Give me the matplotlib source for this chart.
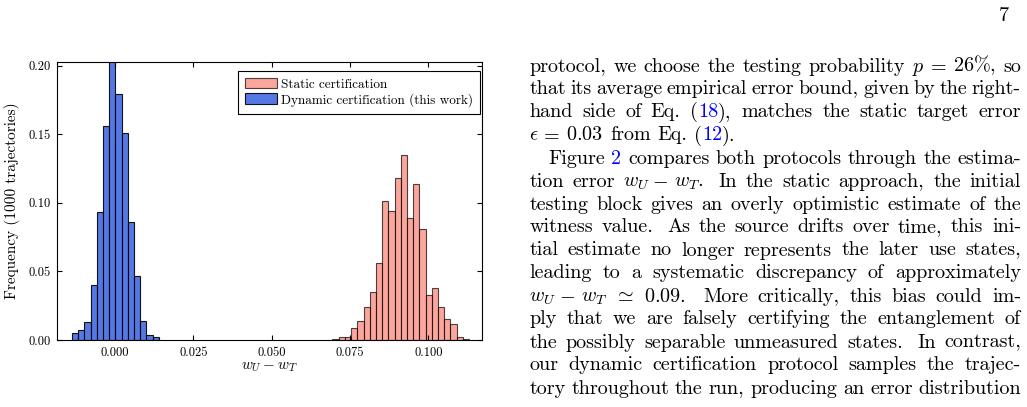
import re
import numpy as np
from matplotlib import pyplot as plt

plt.rcParams.update({
    "font.family": "cmr10",
    "mathtext.fontset": "cm",
    "axes.formatter.use_mathtext": True,
    "axes.unicode_minus": False,
})

# histogram data (fraction of 1000 trajectories per bin)
bin_width = 0.00198
static_first_edge = 0.0694
static_freq = [0.001, 0.002, 0.002, 0.009, 0.014, 0.024, 0.035, 0.056, 0.101, 0.094, 0.118,
               0.135, 0.089, 0.114, 0.081, 0.033, 0.038, 0.024, 0.015, 0.012, 0.002, 0.001]
dynamic_first_edge = -0.0137
dynamic_freq = [0.005, 0.007, 0.013, 0.040, 0.093, 0.156, 0.206, 0.179, 0.151, 0.086,
                0.047, 0.014, 0.004, 0.002]

xticks = [0.000, 0.025, 0.050, 0.075, 0.100]
yticks = [0.00, 0.05, 0.10, 0.15, 0.20]

# page text next to the figure; <..> marks blue reference numbers
page_lines = [
    "protocol, we choose the testing probability $p$ $=$ $26\\%$, so",
    "that its average empirical error bound, given by the right-",
    "hand side of Eq. (<18>), matches the static target error",
    "$\\epsilon$ $=$ $0.03$ from Eq. (<12>).",
    "Figure <2> compares both protocols through the estima-",
    "tion error $w_U$ $-$ $w_T$. In the static approach, the initial",
    "testing block gives an overly optimistic estimate of the",
    "witness value. As the source drifts over time, this ini-",
    "tial estimate no longer represents the later use states,",
    "leading to a systematic discrepancy of approximately",
    "$w_U$ $-$ $w_T$ $\\simeq$ $0.09$. More critically, this bias could im-",
    "ply that we are falsely certifying the entanglement of",
    "the possibly separable unmeasured states. In contrast,",
    "our dynamic certification protocol samples the trajec-",
    "tory throughout the run, producing an error distribution",
]
paragraph_end = {3}
indented = {4}

W, H = 1027, 407
fig = plt.figure(figsize=(W / 100, H / 100), dpi=100)
ax = fig.add_axes([57.3 / W, 1 - 340 / H, 425 / W, 278.3 / H])

ax.bar(static_first_edge + bin_width * np.arange(len(static_freq)), static_freq,
       width=bin_width, align='edge', color='salmon', edgecolor='black',
       linewidth=0.8, alpha=0.7, label='Static certification')
ax.bar(dynamic_first_edge + bin_width * np.arange(len(dynamic_freq)), dynamic_freq,
       width=bin_width, align='edge', color='royalblue', edgecolor='black',
       linewidth=0.8, alpha=0.9, label='Dynamic certification (this work)')

ax.set_xlim(-0.0184, 0.1172)
ax.set_ylim(0, 0.2028)
ax.set_xticks(xticks, [f"{t:.3f}" for t in xticks])
ax.set_yticks(yticks, [f"{t:.2f}" for t in yticks])
ax.tick_params(direction='in', top=True, right=True, length=3.5, width=0.8,
               labelsize=9, pad=5)
for s in ax.spines.values():
    s.set_linewidth(0.8)
ax.set_xlabel('$w_U - w_T$', fontsize=11, labelpad=1)
ax.set_ylabel('Frequency (1000 trajectories)', fontsize=11, labelpad=6)

leg = ax.legend(loc='upper right', bbox_to_anchor=(0.9946, 0.9677), borderaxespad=0,
                fontsize=9.5, fancybox=False, edgecolor='black', framealpha=1,
                handlelength=2.4, handleheight=0.85, labelspacing=0.15,
                handletextpad=0.3, borderpad=0.55)
leg.get_frame().set_linewidth(0.8)

# page text, justified roughly the way TeX sets it
body_size = 14.5
em = body_size * 100 / 72
renderer = fig.canvas.get_renderer()
x0, x1 = 529.3, 1021.0
base0, step = 71.5, 23.0

binops = {'$-$'}
relations = {'$=$', '$\\simeq$'}


def measure(s):
    t = fig.text(0, 0, s, fontsize=body_size)
    w = t.get_window_extent(renderer).width
    t.remove()
    return w


def glue(word, nxt):
    # natural, stretch, shrink of the space between two words
    # (a lone mathtext operator keeps its left padding but loses the right one)
    if nxt in binops:
        return 0.03 * em, 0.111 * em, 0.0
    if word in binops:
        return 0.23 * em, 0.111 * em, 0.0
    if nxt in relations:
        return 0.08 * em, 0.278 * em, 0.0
    if word in relations:
        return 0.28 * em, 0.278 * em, 0.0
    if word.endswith('.') and word != 'Eq.':
        return 0.444 * em, 0.5 * em, 0.111 * em
    if word.endswith(','):
        return 0.333 * em, 0.2075 * em, 0.089 * em
    return 0.333 * em, 0.166 * em, 0.111 * em


for i, line in enumerate(page_lines):
    raw = line.split(' ')
    words = []
    for word in raw:
        pieces = [p for p in re.split(r'(<[^>]*>)', word) if p]
        pieces = [(p[1:-1], 'blue') if p.startswith('<') else (p, 'black') for p in pieces]
        widths = [measure(p) for p, _ in pieces]
        words.append((pieces, widths))
    left = x0 + (19 if i in indented else 0)
    total = sum(sum(w) for _, w in words)
    glues = [glue(a.replace('<', '').replace('>', ''), b) for a, b in zip(raw[:-1], raw[1:])]
    natural = sum(g[0] for g in glues)
    slack = x1 - left - total - natural
    if i in paragraph_end:
        gaps = [g[0] for g in glues]
    elif slack >= 0:
        st = sum(g[1] for g in glues)
        gaps = [g[0] + slack * g[1] / st for g in glues]
    else:
        sh = sum(g[2] for g in glues)
        gaps = [g[0] + slack * g[2] / sh for g in glues]
    gaps.append(0)
    x = left
    y = 1 - (base0 + i * step) / H
    for (pieces, widths), gap in zip(words, gaps):
        for (p, c), w in zip(pieces, widths):
            fig.text(x / W, y, p, fontsize=body_size, color=c, va='baseline')
            x += w
        x += gap

fig.text(999 / W, 1 - 20.7 / H, '7', fontsize=body_size, va='baseline')

fig.savefig('out.png', dpi=100)
